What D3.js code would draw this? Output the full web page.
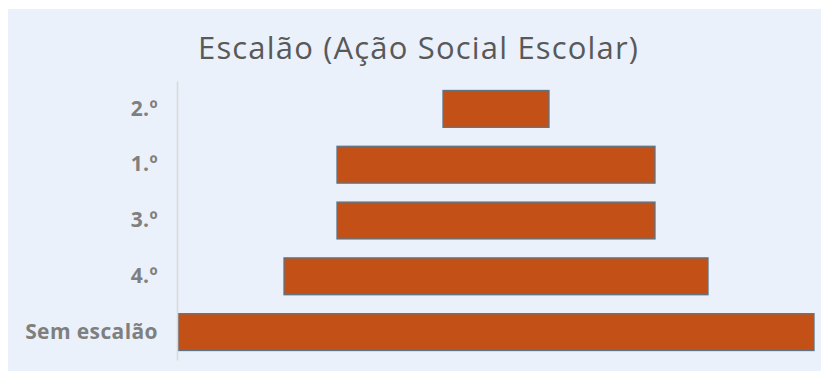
<!DOCTYPE html>
<html>
<head>
<meta charset="utf-8">
<script src="https://cdn.jsdelivr.net/npm/d3@7"></script>
<style>
  body { margin: 0; background: #ffffff; }
  svg { display: block; }
</style>
</head>
<body>
<div id="chart"></div>
<script>
// data
var categories = ["2.º", "1.º", "3.º", "4.º", "Sem escalão"];
var values = [1, 3, 3, 4, 6];
var chartTitle = "Escalão (Ação Social Escolar)";

var width = 821, height = 371;
var plot = { left: 178, right: 814, top: 81, bottom: 360 };

var svg = d3.select("#chart").append("svg")
  .attr("width", width)
  .attr("height", height);

// panel background
svg.append("rect")
  .attr("x", 8)
  .attr("y", 9)
  .attr("width", width - 8)
  .attr("height", height - 9)
  .attr("fill", "#EAF1FA");

svg.append("text")
  .attr("x", 418)
  .attr("y", 59)
  .attr("text-anchor", "middle")
  .attr("fill", "#595959")
  .attr("textLength", 440)
  .attr("lengthAdjust", "spacing")
  .style("font-family", "'Open Sans', sans-serif")
  .style("font-size", "31px")
  .text(chartTitle);

var y = d3.scaleBand()
  .domain(categories)
  .range([plot.top, plot.bottom])
  .paddingInner(0.34)
  .paddingOuter(0.17);

var w = d3.scaleLinear()
  .domain([0, d3.max(values)])
  .range([0, plot.right - plot.left]);

var mid = (plot.left + plot.right) / 2;

var rows = categories.map(function(c, i) { return { cat: c, val: values[i] }; });

svg.selectAll(".bar")
  .data(rows)
  .enter().append("rect")
  .attr("class", "bar")
  .attr("x", function(d) { return mid - w(d.val) / 2; })
  .attr("y", function(d) { return y(d.cat); })
  .attr("width", function(d) { return w(d.val); })
  .attr("height", y.bandwidth())
  .attr("fill", "#C35016")
  .attr("stroke", "#5E7485")
  .attr("stroke-width", 1.3);

// category axis
var yAxis = svg.append("g")
  .attr("transform", "translate(" + (plot.left - 1) + ",0)")
  .call(d3.axisLeft(y).tickSize(0).tickPadding(19));

yAxis.select(".domain")
  .attr("stroke", "#D9D9D9")
  .attr("stroke-width", 1.5);

yAxis.selectAll("text")
  .attr("fill", "#7F7F7F")
  .style("font-family", "'Open Sans', sans-serif")
  .style("font-weight", "bold")
  .style("font-size", "21px")
  .style("letter-spacing", "0.4px");
</script>
</body>
</html>
